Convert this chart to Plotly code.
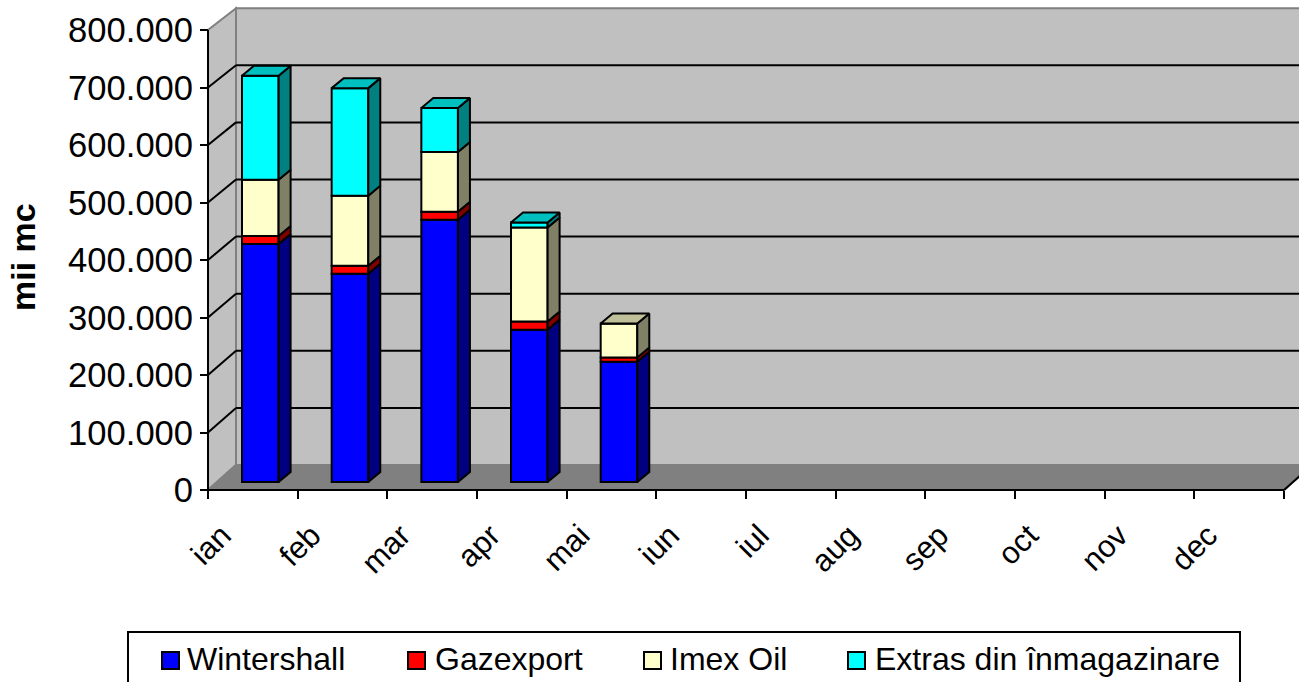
import plotly.graph_objects as go

months = ["ian", "feb", "mar", "apr", "mai", "iun", "iul", "aug", "sep", "oct", "nov", "dec"]
y_ticks = [0, 100000, 200000, 300000, 400000, 500000, 600000, 700000, 800000]
y_labels = ["0", "100.000", "200.000", "300.000", "400.000", "500.000", "600.000", "700.000", "800.000"]

wintershall = [414000, 362000, 456000, 265000, 209000]
gazexport = [14000, 14000, 14000, 14000, 7500]
imex_oil = [97500, 122000, 104000, 163500, 59000]
extras = [181000, 187000, 76500, 8700, 0]

series_names = ["Wintershall", "Gazexport", "Imex Oil", "Extras din înmagazinare"]
front_colors = ["#0000FF", "#FF0000", "#FFFFCC", "#00FFFF"]
side_colors = ["#000080", "#800000", "#808066", "#008080"]
top_colors = ["#0000BF", "#BF0000", "#BFBF99", "#00BFBF"]
series_values = [wintershall, gazexport, imex_oil, extras]

W, H = 1299, 682
X0, Y0 = 208, 490      # pixel of the origin of the front plane
PX_X = 89.67           # pixels per category
PX_Y = 57.5 / 100000   # pixels per unit value
px_w = lambda p: p / PX_X
px_v = lambda p: p / PX_Y
LW = 2

BACK_DX, BACK_DY = px_w(28), px_v(25)
BACK_SCALE = 57.1 / 57.5
X_MIN, X_MAX = px_w(-X0), px_w(W - X0)
Y_MIN, Y_MAX = px_v(Y0 - H), px_v(Y0)
X_END = 12
TOP = y_ticks[-1]

BAR_W = px_w(36.6)
BAR_CENTER = px_w(34) + BAR_W / 2
BAR_LIFT = px_v(8)
SIDE_DX, SIDE_DY = px_w(12), px_v(10)

fig = go.Figure()


def poly(xs, ys, fill, line="black", width=LW, layer="below"):
    path = "M " + " L ".join(f"{x},{y}" for x, y in zip(xs, ys)) + " Z"
    return dict(type="path", path=path, xref="x", yref="y", fillcolor=fill,
                line=dict(color=line, width=width), layer=layer)


def seg(x0, y0, x1, y1, color="black", width=LW):
    return dict(type="line", xref="x", yref="y", x0=x0, y0=y0, x1=x1, y1=y1,
                line=dict(color=color, width=width), layer="below")


back_y = lambda v: v * BACK_SCALE + BACK_DY
shapes = [
    # back wall, left wall, floor
    poly([BACK_DX, X_END + BACK_DX, X_END + BACK_DX, BACK_DX],
         [back_y(0), back_y(0), back_y(TOP), back_y(TOP)], "#C0C0C0", "#808080"),
    poly([0, BACK_DX, BACK_DX, 0], [0, back_y(0), back_y(TOP), TOP], "#C0C0C0", "#808080"),
    poly([0, BACK_DX, X_END + BACK_DX, X_END], [0, back_y(0), back_y(0), 0], "#808080", "#808080"),
]
for v in y_ticks[1:-1]:
    shapes.append(seg(0, v, BACK_DX, back_y(v)))
    shapes.append(seg(BACK_DX, back_y(v), X_END + BACK_DX, back_y(v)))
shapes.append(seg(0, 0, 0, TOP))
shapes.append(seg(0, 0, X_END, 0))
shapes.append(seg(X_END, 0, X_END + BACK_DX, BACK_DY))

n = len(wintershall)
bases = [BAR_LIFT] * n
tops_seen = [None] * n
for s, vals in enumerate(series_values):
    fig.add_trace(go.Bar(
        x=[i + BAR_CENTER for i in range(n)], y=vals, base=list(bases), width=BAR_W,
        name=series_names[s], marker=dict(color=front_colors[s], line=dict(color="black", width=LW)),
        showlegend=False,
    ))
    sx, sy = [], []
    for i, v in enumerate(vals):
        if v <= 0:
            continue
        xr = i + BAR_CENTER + BAR_W / 2
        b, t = bases[i], bases[i] + v
        sx += [xr, xr + SIDE_DX, xr + SIDE_DX, xr, xr, None]
        sy += [b, b + SIDE_DY, t + SIDE_DY, t, b, None]
        tops_seen[i] = s
    fig.add_trace(go.Scatter(x=sx, y=sy, mode="lines", fill="toself", fillcolor=side_colors[s],
                             line=dict(color="black", width=LW), showlegend=False, hoverinfo="skip"))
    bases = [b + v for b, v in zip(bases, vals)]

for s in range(len(series_values)):
    tx, ty = [], []
    for i in range(n):
        if tops_seen[i] == s:
            xl = i + BAR_CENTER - BAR_W / 2
            xr = xl + BAR_W
            t = bases[i]
            tx += [xl, xr, xr + SIDE_DX, xl + SIDE_DX, xl, None]
            ty += [t, t, t + SIDE_DY, t + SIDE_DY, t, None]
    if tx:
        fig.add_trace(go.Scatter(x=tx, y=ty, mode="lines", fill="toself", fillcolor=top_colors[s],
                                 line=dict(color="black", width=LW), showlegend=False, hoverinfo="skip"))

# legend, drawn by hand because its entries are unevenly spaced
LEG_BOX = (128, 632, 1240, 700)
LEG_SWATCH_X = [162, 408, 644, 848]
LEG_TEXT_X = [188, 436, 671, 876]
shapes.append(dict(type="rect", xref="paper", yref="paper", x0=LEG_BOX[0] / W, x1=LEG_BOX[2] / W,
                   y0=1 - LEG_BOX[3] / H, y1=1 - LEG_BOX[1] / H, fillcolor="white",
                   line=dict(color="black", width=LW), layer="above"))
annotations = []
for s, name in enumerate(series_names):
    shapes.append(dict(type="rect", xref="paper", yref="paper", x0=LEG_SWATCH_X[s] / W,
                       x1=(LEG_SWATCH_X[s] + 17) / W, y0=1 - 669 / H, y1=1 - 652 / H,
                       fillcolor=front_colors[s], line=dict(color="black", width=LW), layer="above"))
    annotations.append(dict(text=name, xref="paper", yref="paper", x=LEG_TEXT_X[s] / W, y=1 - 659 / H,
                            xanchor="left", yanchor="middle", showarrow=False,
                            font=dict(size=32, color="black"), xshift=-3))
annotations.append(dict(text="<b>mii mc</b>", xref="paper", yref="paper", x=23 / W, y=1 - 257 / H,
                        xanchor="center", yanchor="middle",
                        textangle=-90, showarrow=False, font=dict(size=34, color="black")))

LABEL_SHIFT = px_w(14)
fig.update_layout(
    width=W, height=H, autosize=False, margin=dict(l=0, r=0, t=0, b=0),
    paper_bgcolor="white", plot_bgcolor="white", barmode="overlay",
    font=dict(family="Liberation Sans, Arial, sans-serif", color="black", size=32),
    shapes=shapes, annotations=annotations, showlegend=False,
    xaxis=dict(range=[X_MIN, X_MAX], domain=[0, 1], anchor="free", position=1 - Y0 / H,
               showgrid=False, zeroline=False, showline=False,
               tickmode="array", tickvals=[i + LABEL_SHIFT for i in range(12)], ticktext=months,
               tickangle=-45, ticks="", ticklen=8, tickfont=dict(size=31), ticklabelstandoff=20,
               minor=dict(tickmode="array", tickvals=list(range(13)), ticks="outside", ticklen=8,
                          tickcolor="black", tickwidth=LW, showgrid=False)),
    yaxis=dict(range=[Y_MIN, Y_MAX], domain=[0, 1], anchor="free", position=X0 / W,
               showgrid=False, zeroline=False, showline=False,
               tickmode="array", tickvals=y_ticks, ticktext=y_labels,
               ticks="outside", ticklen=8, tickcolor="black", tickwidth=LW, tickfont=dict(size=34.6)),
)

fig.write_html("out.html", config={"displayModeBar": False},
               post_script="document.body.style.margin='0';document.documentElement.style.overflow='hidden';")
